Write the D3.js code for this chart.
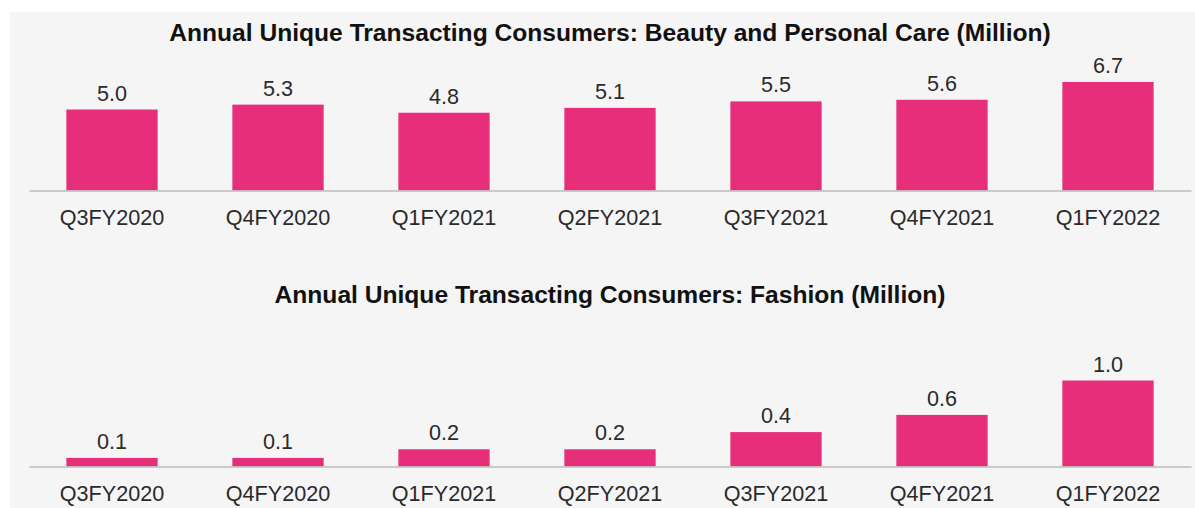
<!DOCTYPE html>
<html lang="en">
<head>
    <meta charset="UTF-8">
    <title>Annual Unique Transacting Consumers</title>
    <script src="https://d3js.org/d3.v7.min.js"></script>
    <style>
        body { margin: 0; background: #fff; }
        svg { display: block; font-family: Arial, "Liberation Sans", sans-serif; }
    </style>
</head>
<body>
<svg id="chart" width="1195" height="508"></svg>

<script>
    const quarters = ["Q3FY2020", "Q4FY2020", "Q1FY2021", "Q2FY2021", "Q3FY2021", "Q4FY2021", "Q1FY2022"];
    const beautyValues = [5.0, 5.3, 4.8, 5.1, 5.5, 5.6, 6.7];
    const fashionValues = [0.1, 0.1, 0.2, 0.2, 0.4, 0.6, 1.0];
    const titles = [
        "Annual Unique Transacting Consumers: Beauty and Personal Care (Million)",
        "Annual Unique Transacting Consumers: Fashion (Million)"
    ];

    const barColor = "#e62e7a";
    const svg = d3.select("#chart");

    // grey panel
    svg.append("rect")
        .attr("x", 10).attr("y", 12)
        .attr("width", 1185).attr("height", 496)
        .attr("fill", "#f5f5f5");

    const x = d3.scaleBand()
        .domain(quarters)
        .range([29, 1191])
        .paddingInner(0.45)
        .paddingOuter(0.225);

    function drawPanel(values, title, baseY, yMax, pxHeight, titleY) {
        const y = d3.scaleLinear()
            .domain([0, yMax])
            .range([baseY, baseY - pxHeight]);

        const g = svg.append("g");

        g.append("text")
            .attr("x", 610)
            .attr("y", titleY)
            .attr("text-anchor", "middle")
            .attr("font-size", 24.6)
            .attr("font-weight", "bold")
            .attr("fill", "#111")
            .text(title);

        g.selectAll(".bar")
            .data(values)
            .enter().append("rect")
            .attr("x", (d, i) => x(quarters[i]))
            .attr("y", d => y(d))
            .attr("width", x.bandwidth())
            .attr("height", d => y(0) - y(d))
            .attr("fill", barColor);

        g.selectAll(".val")
            .data(values)
            .enter().append("text")
            .attr("x", (d, i) => x(quarters[i]) + x.bandwidth() / 2)
            .attr("y", d => y(d) - 9)
            .attr("text-anchor", "middle")
            .attr("font-size", 21.6)
            .attr("fill", "#2a2a2a")
            .text(d => d.toFixed(1));

        const axis = g.append("g")
            .attr("transform", "translate(0," + baseY + ")")
            .call(d3.axisBottom(x).tickSize(0).tickPadding(0));
        axis.select(".domain").attr("stroke", "#bbb").attr("stroke-width", 1.5);
        axis.selectAll(".tick text")
            .attr("dy", 0)
            .attr("y", 34.5)
            .attr("font-size", 21.6)
            .attr("font-family", "Arial, 'Liberation Sans', sans-serif")
            .attr("fill", "#2a2a2a");
    }

    drawPanel(beautyValues, titles[0], 190.5, 8, 129.6, 40.5);
    drawPanel(fashionValues, titles[1], 466.5, 1.2, 103.2, 303);
</script>
</body>
</html>
